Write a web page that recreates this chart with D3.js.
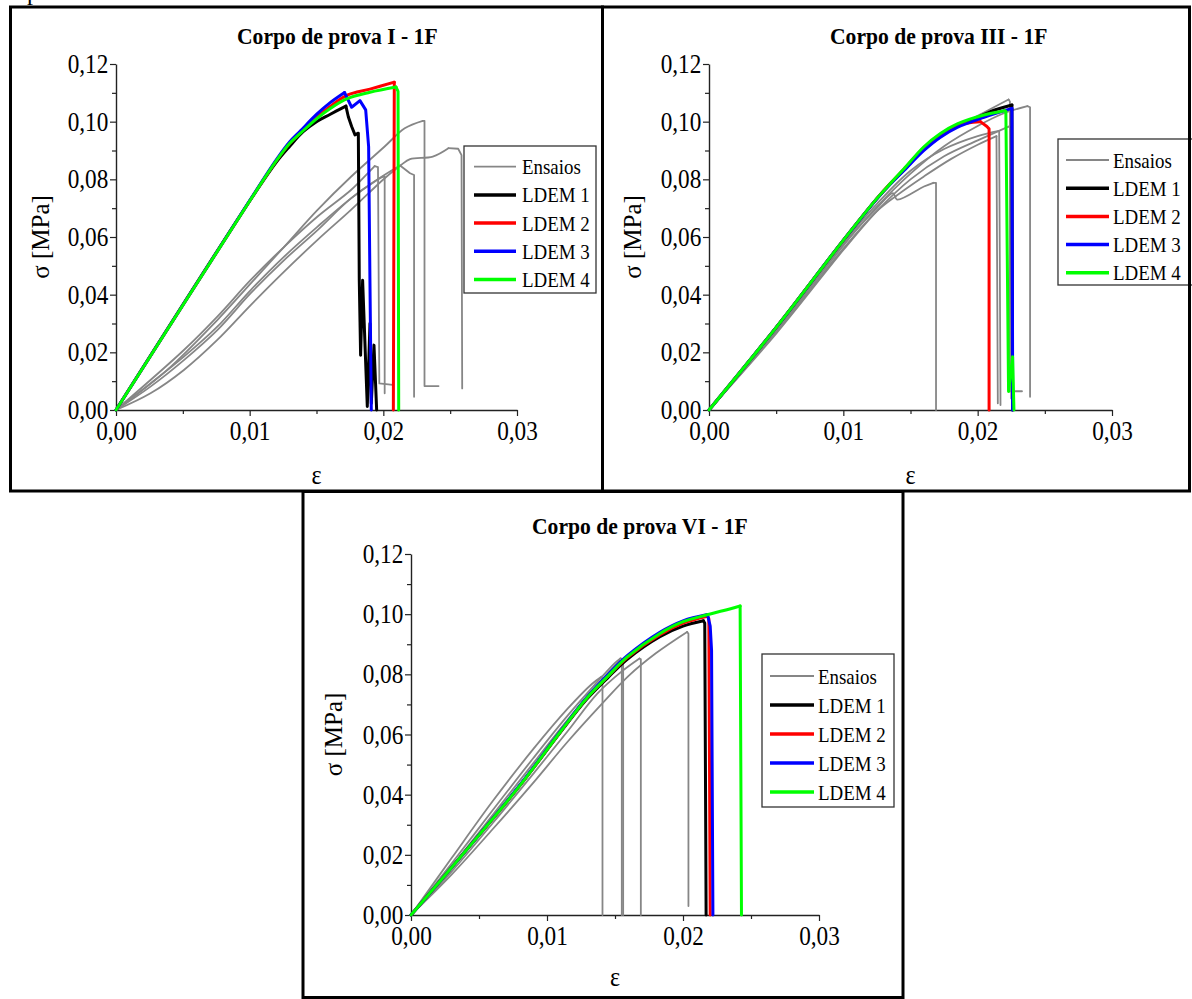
<!DOCTYPE html>
<html>
<head>
<meta charset="utf-8">
<script src="https://cdn.jsdelivr.net/npm/d3@7"></script>
<style>
body { margin: 0; background: #fff; }
svg { display: block; font-family: "Liberation Serif", "Times New Roman", serif; }
</style>
</head>
<body>
<svg id="chart" width="1192" height="999"></svg>
<script>
// ticks and legend
const xTicks = [0, 0.01, 0.02, 0.03];
const xMinor = [0.005, 0.015, 0.025];
const yTicks = [0, 0.02, 0.04, 0.06, 0.08, 0.10, 0.12];
const yMinor = [0.01, 0.03, 0.05, 0.07, 0.09, 0.11];
const seriesNames = ["Ensaios", "LDEM 1", "LDEM 2", "LDEM 3", "LDEM 4"];
const seriesColors = ["#868686", "#000000", "#ff0000", "#0000ff", "#00ff00"];
const panelTitles = ["Corpo de prova I - 1F", "Corpo de prova III - 1F", "Corpo de prova VI - 1F"];

// [strain, stress MPa]
// Corpo de prova I
const p1Ensaios = [
  [[0,0],[.00258,.0104],[.00508,.0208],[.00758,.0324],[.01008,.0451],[.01258,.0566],[.01508,.0671],[.01758,.0763],[.01883,.0821],[.01935,.0846],[.0196,.0842],[.0197,.0092],[.0207,.0087]],
  [[0,0],[.00258,.0092],[.00508,.0185],[.00758,.0289],[.01008,.0416],[.01258,.0532],[.01508,.0636],[.01758,.0734],[.01933,.0792],[.01995,.0809],[.0201,.0809],[.0201,.0058]],
  [[0,0],[.00258,.0081],[.00508,.0173],[.00758,.0277],[.01008,.0405],[.01258,.0520],[.01508,.0624],[.01758,.0734],[.02008,.0815],[.02125,.0848],[.022,.0821],[.0223,.0815],[.0223,.0046]],
  [[0,0],[.00383,.0139],[.00758,.0312],[.01008,.0439],[.01258,.0566],[.01508,.0694],[.01758,.0809],[.02008,.0913],[.02160,.0977],[.02295,.1003],[.02308,.1003],[.02308,.0083],[.02413,.0083]],
  [[0,0],[.00258,.0058],[.00508,.0139],[.00758,.0243],[.01008,.0364],[.01258,.0480],[.01508,.0590],[.01758,.0694],[.02008,.0803],[.02133,.0850],[.0220,.0870],[.0237,.0879],[.02487,.0908],[.0256,.0906],[.02585,.0884],[.0259,.0075]]
];
const p1Ldem1 = [[0,0],[.0100,.0725],[.0120,.0860],[.0130,.0915],[.0140,.0965],[.0150,.1000],[.0160,.1025],[.0172,.1054],[.01738,.1017],[.01763,.0983],[.01788,.0954],[.01813,.0960],[.0182,.0451],[.0183,.019],[.01845,.045],[.0188,.0012],[.0190,.030],[.0191,.0023],[.0193,.0225],[.0195,0]];
const p1Ldem2 = [[0,0],[.0100,.0725],[.0120,.0865],[.0130,.0925],[.0138,.0962],[.0150,.1015],[.0160,.1052],[.0173,.1092],[.0190,.1113],[.02082,.1137],[.02075,0]];
const p1Ldem3 = [[0,0],[.0100,.0726],[.0120,.0868],[.0130,.0930],[.0138,.0968],[.0150,.1025],[.0160,.1065],[.0171,.1101],[.01763,.1050],[.01825,.1073],[.01868,.1041],[.0189,.0913],[.0190,.0440],[.0191,0]];
const p1Ldem4 = [[0,0],[.0100,.0725],[.0120,.0865],[.0130,.0925],[.0138,.0960],[.0150,.1010],[.0160,.1045],[.0173,.1080],[.0190,.1102],[.02095,.1120],[.0211,.1105],[.02115,0]];

// Corpo de prova III
const p2Ensaios = [
  [[0,0],[.005,.0275],[.010,.0575],[.0125,.0700],[.0137,.0752],[.0140,.0730],[.0160,.0775],[.0167,.0788],[.0169,.0788],[.0169,0]],
  [[0,0],[.005,.0270],[.010,.0560],[.0125,.0690],[.0140,.0745],[.016,.0810],[.018,.0870],[.020,.0920],[.0214,.0950],[.0215,.0023]],
  [[0,0],[.005,.0280],[.010,.0580],[.0125,.0715],[.015,.0830],[.0175,.0905],[.020,.0950],[.0216,.0968],[.0217,.0017]],
  [[0,0],[.005,.0290],[.010,.0590],[.0125,.0735],[.015,.0860],[.0175,.0955],[.020,.1020],[.0223,.1077],[.0224,.1070],[.0224,.0065],[.0233,.0065]],
  [[0,0],[.005,.0275],[.010,.0570],[.0125,.0705],[.015,.0820],[.0175,.0915],[.020,.0985],[.022,.1030],[.0237,.1054],[.0239,.1050],[.0239,.0046]],
  [[0,0],[.005,.0265],[.010,.0555],[.0125,.0690],[.015,.0800],[.0175,.0880],[.020,.0935],[.0223,.0983],[.0225,.0980],[.0225,.0040]]
];
const p2Ldem1 = [[0,0],[.00505,.0289],[.01002,.0590],[.0125,.0733],[.01351,.0785],[.0145,.0832],[.0160,.0905],[.0172,.0950],[.01848,.0985],[.0200,.1014],[.02094,.1035],[.02255,.1058],[.0226,0]];
const p2Ldem2 = [[0,0],[.00505,.0289],[.01002,.0590],[.0125,.0734],[.01351,.0786],[.0145,.0834],[.0160,.0910],[.0172,.0955],[.01848,.0988],[.0202,.1000],[.02069,.0983],[.02085,.0975],[.02085,0]];
const p2Ldem3 = [[0,0],[.00505,.0289],[.01002,.0590],[.0125,.0733],[.01351,.0784],[.0145,.0830],[.0160,.0900],[.0172,.0945],[.01848,.0980],[.02047,.1015],[.02255,.1046],[.0226,.0185],[.0226,0]];
const p2Ldem4 = [[0,0],[.00505,.0289],[.01002,.0590],[.0125,.0734],[.01351,.0786],[.0145,.0836],[.0160,.0913],[.0172,.0958],[.01848,.0992],[.02047,.1023],[.0220,.1038],[.0221,.1036],[.0223,.0064],[.0226,.0185],[.0227,0]];

// Corpo de prova VI
const p3Ensaios = [
  [[0,0],[.003,.0190],[.006,.0378],[.009,.0552],[.0115,.0685],[.0133,.0768],[.0140,.0792],[.01408,.0785],[.01408,0]],
  [[0,0],[.003,.0172],[.006,.0348],[.009,.0522],[.0115,.0662],[.0135,.0765],[.0150,.0838],[.0154,.0853],[.0156,.0850],[.0156,0]],
  [[0,0],[.003,.0162],[.006,.0332],[.009,.0505],[.0115,.0648],[.0135,.0755],[.0150,.0830],[.0153,.0846],[.0155,.0840],[.0155,0]],
  [[0,0],[.003,.0145],[.006,.0305],[.009,.0470],[.0115,.0610],[.0137,.0736],[.0155,.0810],[.0168,.0853],[.0169,.0850],[.0169,0]],
  [[0,0],[.003,.0135],[.006,.0285],[.009,.0440],[.0115,.0575],[.0140,.0700],[.0160,.0795],[.0180,.0870],[.0203,.0941],[.0204,.0935],[.0204,.003]]
];
const p3Ldem1 = [[0,0],[.004,.0212],[.008,.0430],[.011,.0608],[.0129,.0716],[.0145,.0790],[.0159,.0850],[.0183,.0925],[.0200,.0960],[.0215,.0978],[.0216,.0970],[.0217,0]];
const p3Ldem2 = [[0,0],[.004,.0212],[.008,.0430],[.011,.0610],[.0129,.0720],[.0145,.0795],[.0159,.0856],[.0183,.0932],[.0200,.0970],[.0218,.0993],[.0219,.0985],[.0220,0]];
const p3Ldem3 = [[0,0],[.004,.0212],[.008,.0432],[.011,.0612],[.0129,.0722],[.0145,.0800],[.0159,.0862],[.0183,.0940],[.0200,.0978],[.0218,.0999],[.0220,.0960],[.0221,.0880],[.0222,0]];
const p3Ldem4 = [[0,0],[.004,.0212],[.008,.0430],[.011,.0610],[.0129,.0720],[.0145,.0795],[.0159,.0858],[.0183,.0936],[.0200,.0975],[.0217,.0997],[.0230,.1012],[.0242,.1027],[.0243,0]];

const fmt = d3.formatLocale({decimal: ",", thousands: ".", grouping: [3], currency: ["", ""]}).format(".2f");
const svg = d3.select("#chart");
const SX = 0.86; // the source glyphs are narrow

const panels = [
  {box: [10.5, 7, 592, 484], x0: 116, x1: 517, y0: 410, y1: 64, titleX: 237, titleY: 44, ylabX: 49, epsY: 484,
   legend: {x: 464, y: 146, w: 132, h: 147, l0: 474, l1: 516, tx: 522, r0: 166.7, dy: 28.2},
   ensaios: p1Ensaios, ldem: [p1Ldem1, p1Ldem2, p1Ldem3, p1Ldem4]},
  {box: [602.5, 7, 587, 484], x0: 709, x1: 1112, y0: 410, y1: 64, titleX: 830, titleY: 44, ylabX: 641, epsY: 484,
   legend: {x: 1058, y: 139, w: 140, h: 146, l0: 1066, l1: 1109, tx: 1113, r0: 160, dy: 28.2},
   ensaios: p2Ensaios, ldem: [p2Ldem1, p2Ldem2, p2Ldem3, p2Ldem4]},
  {box: [303, 491.5, 600, 506], x0: 411, x1: 819, y0: 915, y1: 554, titleX: 532, titleY: 534, ylabX: 342, epsY: 986,
   legend: {x: 762, y: 654, w: 132, h: 153, l0: 770, l1: 814, tx: 818, r0: 676, dy: 29},
   ensaios: p3Ensaios, ldem: [p3Ldem1, p3Ldem2, p3Ldem3, p3Ldem4]}
];

// rising branch up to the peak, then the failure branch
function splitAtPeak(d) {
  const k = d3.maxIndex(d, q => q[1]);
  return [d.slice(0, k + 1), d.slice(k)];
}

function drawPanel(p, i) {
  const x = d3.scaleLinear().domain([0, 0.03]).range([p.x0, p.x1]);
  const y = d3.scaleLinear().domain([0, 0.12]).range([p.y0, p.y1]);
  const g = svg.append("g");
  const smooth = d3.line().x(d => x(d[0])).y(d => y(d[1])).curve(d3.curveCatmullRom.alpha(0.5));
  const straight = d3.line().x(d => x(d[0])).y(d => y(d[1]));

  // title
  g.append("text").attr("transform", `translate(${p.titleX},${p.titleY}) scale(0.9,1)`)
    .attr("font-size", 24).attr("font-weight", "bold").text(panelTitles[i]);

  // minor ticks
  g.append("g").attr("transform", `translate(0,${p.y0})`)
    .call(d3.axisBottom(x).tickValues(xMinor).tickSize(4).tickFormat(""))
    .call(s => s.select(".domain").remove());
  g.append("g").attr("transform", `translate(${p.x0},0)`)
    .call(d3.axisLeft(y).tickValues(yMinor).tickSize(4).tickFormat(""))
    .call(s => s.select(".domain").remove());

  // major axes
  const xa = g.append("g").attr("transform", `translate(0,${p.y0})`)
    .call(d3.axisBottom(x).tickValues(xTicks).tickSize(6).tickSizeOuter(0).tickPadding(5).tickFormat(fmt));
  const ya = g.append("g").attr("transform", `translate(${p.x0},0)`)
    .call(d3.axisLeft(y).tickValues(yTicks).tickSize(6).tickSizeOuter(0).tickPadding(3).tickFormat(fmt));
  [xa, ya].forEach(a => {
    a.attr("font-size", 27).attr("font-family", null);
    a.select(".domain").attr("stroke", "#222").attr("stroke-width", 1.4);
    a.selectAll("text").attr("fill", "#000").attr("transform", `scale(${SX},1)`);
  });
  g.selectAll(".tick line").attr("stroke", "#222").attr("stroke-width", 1.2);

  // axis titles
  g.append("text").attr("transform", `translate(${(p.x0 + p.x1) / 2},${p.epsY}) scale(${SX},1)`)
    .attr("text-anchor", "middle").attr("font-size", 28).text("ε");
  g.append("text").attr("transform", `translate(${p.ylabX},${(p.y0 + p.y1) / 2}) rotate(-90)`)
    .attr("text-anchor", "middle").attr("font-size", 25).text("σ [MPa]");

  // curves
  const series = p.ensaios.map(d => ({d, color: seriesColors[0], w: 1.8}))
    .concat(p.ldem.map((d, k) => ({d, color: seriesColors[k + 1], w: 3})));
  series.forEach(s => {
    const [rise, fall] = splitAtPeak(s.d);
    [[rise, smooth], [fall, straight]].forEach(([pts, gen]) => {
      g.append("path").attr("d", gen(pts)).attr("fill", "none")
        .attr("stroke", s.color).attr("stroke-width", s.w)
        .attr("stroke-linejoin", "round").attr("stroke-linecap", "round");
    });
  });

  // legend
  const L = p.legend;
  const lg = g.append("g");
  lg.append("rect").attr("x", L.x).attr("y", L.y).attr("width", L.w).attr("height", L.h)
    .attr("fill", "#fff").attr("stroke", "#333").attr("stroke-width", 1.3);
  seriesNames.forEach((name, k) => {
    const ry = L.r0 + k * L.dy;
    lg.append("line").attr("x1", L.l0).attr("x2", L.l1).attr("y1", ry).attr("y2", ry)
      .attr("stroke", seriesColors[k]).attr("stroke-width", k === 0 ? 1.8 : 3.5);
    lg.append("text").attr("transform", `translate(${L.tx},${ry + 7.5}) scale(${SX},1)`)
      .attr("font-size", 22).text(name);
  });

  // frame
  svg.append("rect").attr("x", p.box[0]).attr("y", p.box[1]).attr("width", p.box[2]).attr("height", p.box[3])
    .attr("fill", "none").attr("stroke", "#000").attr("stroke-width", 3);
}

panels.forEach(drawPanel);

// descender of a line of text that sits above the figure (cut off in the source too)
svg.append("text").attr("x", 27).attr("y", 0).attr("font-size", 24).text("p");
</script>
</body>
</html>
